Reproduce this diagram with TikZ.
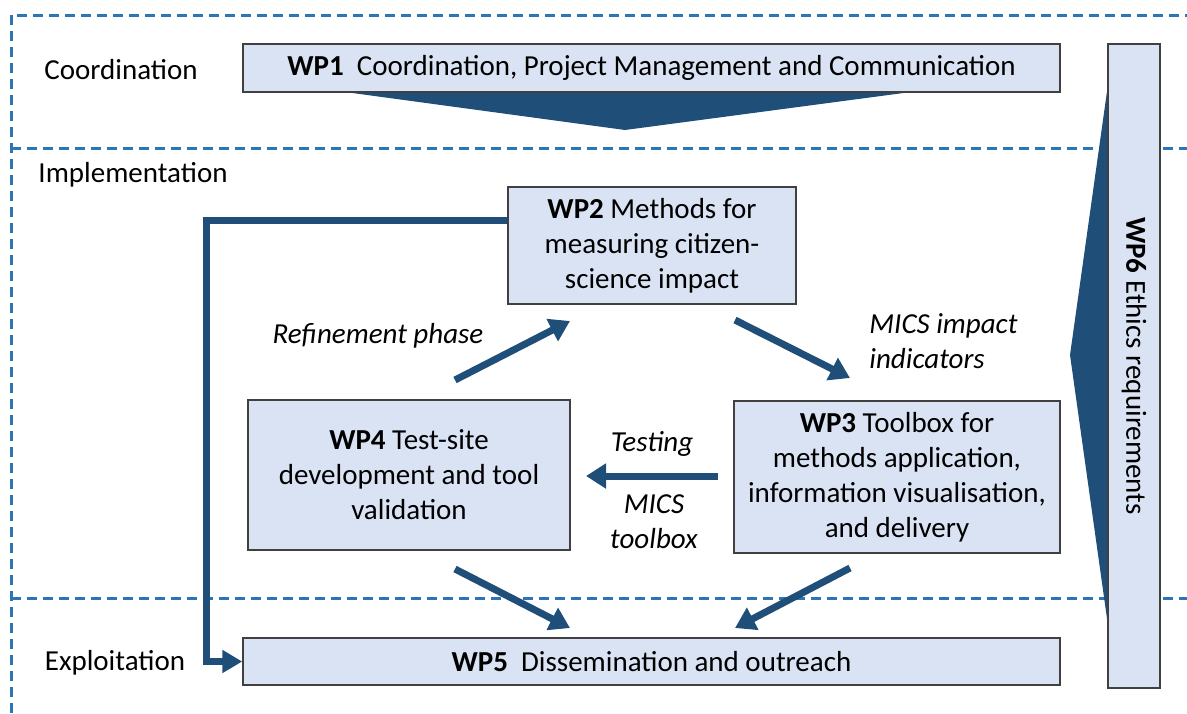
\documentclass[tikz,border=0pt]{standalone}
\usepackage{fontspec}
\setmainfont{Carlito}
\usetikzlibrary{arrows.meta}
\definecolor{boxfill}{HTML}{DAE3F3}
\definecolor{boxline}{HTML}{404040}
\definecolor{dashblue}{HTML}{2E75B6}
\definecolor{arrowblue}{HTML}{1F4E79}
\newcommand\wpfont{\fontsize{14.5}{17.5}\selectfont}
\begin{document}
\begin{tikzpicture}[x=0.5pt,y=-0.5pt,
  wpbox/.style={draw=boxline, line width=0.75pt, fill=boxfill, align=center, inner sep=0pt, font=\wpfont},
  zone/.style={draw=dashblue, line width=1.5pt, dash pattern=on 5pt off 3pt},
  flow/.style={draw=arrowblue, line width=3.5pt, -{Triangle[width=12pt,length=10pt]}},
  lbl/.style={font=\wpfont, inner sep=0pt},
  ilbl/.style={font=\wpfont\itshape, inner sep=0pt, align=center},
  wedge/.style={fill=arrowblue, draw=none}]
\useasboundingbox (0,0) rectangle (1187,713);

% zones
\draw[zone] (11,713) -- (11,15) -- (1187,15);
\draw[zone] (11,148) -- (1187,148);
\draw[zone] (11,598) -- (1187,598);

% wedges
\fill[wedge] (345,92) -- (911,92) -- (625,130) -- cycle;
\fill[wedge] (1110,70) -- (1070,355) -- (1110,640) -- cycle;

% zone labels
\node[lbl] (lcoord) at (121,70) {Coordination};
\node[lbl] (limpl) at (133,175) {Implementation};
\node[lbl] (lexpl) at (115,663) {Exploitation};

% work packages
\node[wpbox, minimum width=408.5pt, minimum height=24pt] (wp1) at (651.5,68)
  {\textbf{WP1}\ \ Coordination, Project Management and Communication};
\node[wpbox, minimum width=144pt, minimum height=58.5pt] (wp2) at (652,245.5)
  {\textbf{WP2} Methods for\\measuring citizen-\\science impact};
\node[wpbox, minimum width=161pt, minimum height=75pt] (wp4) at (409,475)
  {\textbf{WP4} Test-site\\development and tool\\validation};
\node[wpbox, minimum width=163pt, minimum height=76pt] (wp3) at (897,477)
  {\textbf{WP3} Toolbox for\\methods application,\\information visualisation,\\and delivery};
\node[wpbox, minimum width=408.5pt, minimum height=23.5pt] (wp5) at (651.5,661.5)
  {\textbf{WP5}\ \ Dissemination and outreach};
\node[wpbox, rotate=-90, minimum width=322pt, minimum height=26pt] (wp6) at (1134,366)
  {\textbf{WP6} Ethics requirements};

% arrow end points
\coordinate (r1) at (455,380);  \coordinate (r2) at (570,321);
\coordinate (m1) at (735,320);  \coordinate (m2) at (850,378);
\coordinate (t1) at (718,476);  \coordinate (t2) at (586,476);
\coordinate (a1) at (455,569);  \coordinate (a2) at (570,628);
\coordinate (b1) at (850,568);  \coordinate (b2) at (735,628);

\draw[flow] (r1) -- (r2);
\draw[flow] (m1) -- (m2);
\draw[flow] (t1) -- (t2);
\draw[flow] (a1) -- (a2);
\draw[flow] (b1) -- (b2);
\draw[flow, -{Triangle[width=11pt,length=10pt]}] ([yshift=12.75pt]wp2.west) -- ++(-301,0) |- (wp5.west);

% arrow labels
\node[ilbl] (lref) at (378,336) {Refinement phase};
\node[ilbl, anchor=west, align=left] (lmics) at (869,341) {MICS impact\\indicators};
\node[ilbl] (ltest) at (652,444) {Testing};
\node[ilbl] (ltool) at (654,522) {MICS\\toolbox};
\end{tikzpicture}
\end{document}
